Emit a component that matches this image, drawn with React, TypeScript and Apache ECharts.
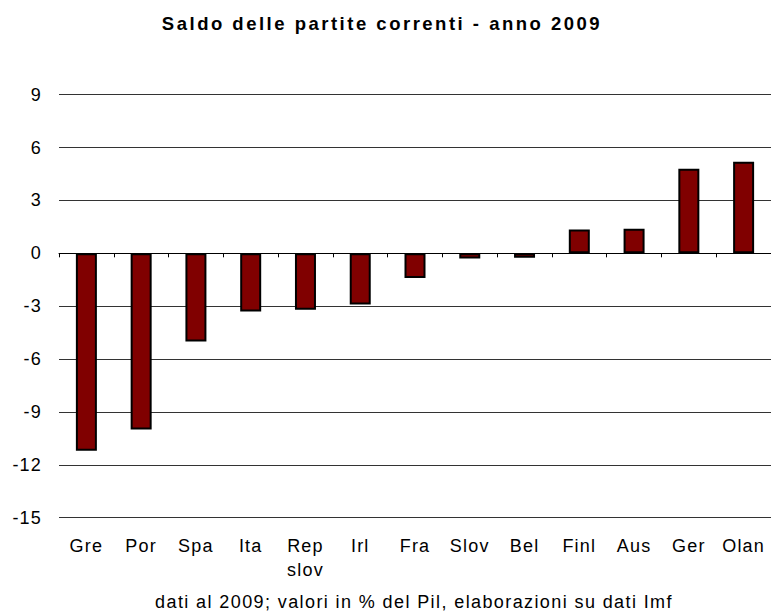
import React, { useEffect, useRef } from "react";
import * as echarts from "echarts";

const categories = ["Gre", "Por", "Spa", "Ita", "Rep\nslov", "Irl", "Fra", "Slov", "Bel", "Finl", "Aus", "Ger", "Olan"];
const values = [-11.2, -10.0, -5.0, -3.3, -3.2, -2.9, -1.4, -0.3, -0.25, 1.35, 1.4, 4.8, 5.2];
const yTicks = { min: -15, max: 9, interval: 3 };
const titleText = "Saldo delle partite correnti - anno 2009";
const footerText = "dati al 2009; valori in % del Pil, elaborazioni su dati Imf";

const FONT = "'Liberation Sans', Arial, sans-serif";

export default function App() {
  const ref = useRef<HTMLDivElement>(null);
  useEffect(() => {
    document.body.style.margin = "0";
    if (!ref.current) return;
    const chart = echarts.init(ref.current, null, { renderer: "svg" });
    chart.setOption({
      animation: false,
      backgroundColor: "#ffffff",
      textStyle: { fontFamily: FONT },
      grid: { left: 59, top: 94.7, width: 715, height: 423, containLabel: false },
      graphic: [
        {
          type: "text",
          x: 382,
          y: 14,
          style: {
            text: titleText,
            fill: "#000",
            font: `bold 18.5px ${FONT}`,
            align: "center",
            verticalAlign: "top",
            textAlign: "center",
            textVerticalAlign: "top",
          },
        },
        {
          type: "text",
          x: 414,
          y: 593,
          style: {
            text: footerText,
            fill: "#000",
            font: `18px ${FONT}`,
            align: "center",
            verticalAlign: "top",
            textAlign: "center",
            textVerticalAlign: "top",
          },
        },
      ],
      xAxis: [
        {
          type: "category",
          data: categories,
          boundaryGap: true,
          axisLine: { show: true, onZero: true, lineStyle: { color: "#000", width: 1 } },
          axisTick: { show: true, length: 4, inside: false, lineStyle: { color: "#000" } },
          axisLabel: { show: false },
          splitLine: { show: false },
        },
        {
          type: "category",
          data: categories,
          position: "bottom",
          boundaryGap: true,
          axisLine: { show: false, onZero: false },
          axisTick: { show: false },
          axisLabel: {
            show: true,
            interval: 0,
            margin: 16,
            color: "#000",
            fontSize: 18,
            fontFamily: FONT,
            lineHeight: 24,
          },
          splitLine: { show: false },
        },
      ],
      yAxis: {
        type: "value",
        min: yTicks.min,
        max: yTicks.max,
        interval: yTicks.interval,
        axisLine: { show: false },
        axisTick: { show: false },
        axisLabel: { margin: 17, color: "#000", fontSize: 18, fontFamily: FONT },
        splitLine: { show: true, lineStyle: { color: "#333333", width: 1 } },
      },
      series: [
        {
          type: "bar",
          xAxisIndex: 0,
          data: values,
          barWidth: 21,
          itemStyle: { color: "#800000", borderColor: "#000", borderWidth: 2 },
        },
      ],
    });
    const texts = ref.current.querySelectorAll("text");
    texts.forEach((t) => {
      const el = t as SVGTextElement;
      const content = el.textContent || "";
      if (content === titleText) el.style.letterSpacing = "2.5px";
      else if (content === footerText) el.style.letterSpacing = "1.4px";
      else el.style.letterSpacing = "1.2px";
    });
    return () => chart.dispose();
  }, []);
  return <div ref={ref} style={{ width: 771, height: 613, position: "absolute", left: 0, top: 0 }} />;
}
